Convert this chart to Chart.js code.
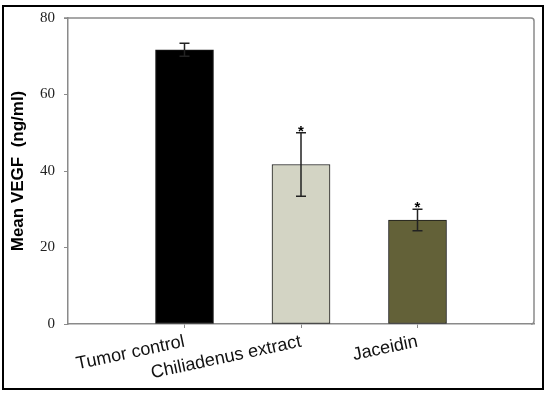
<!DOCTYPE html>
<html lang="en">
<head>
  <meta charset="UTF-8" />
  <title>Mean VEGF</title>
  <script src="https://cdn.jsdelivr.net/npm/chart.js"></script>
  <style>
    body { margin: 0; background: #fff; }
    canvas { display: block; }
  </style>
</head>
<body>
  <canvas id="graficoVEGF" width="550" height="397"></canvas>

  <script>
    const categorias = ['Tumor control', 'Chiliadenus extract', 'Jaceidin'];
    const posiciones = [1, 2, 3];
    const medias = [71.7, 41.7, 27.2];
    const errores = [1.7, 8.3, 2.8];
    const marcas = ['', '*', '*'];
    const colores = ['#000000', '#d3d4c4', '#636138'];
    const ticksY = [0, 20, 40, 60, 80];

    // barras de error, asteriscos, marco del grafico y de la figura
    const extras = {
      id: 'extras',
      afterDatasetsDraw(chart) {
        const ctx = chart.ctx;
        const x = chart.scales.x, y = chart.scales.y;
        ctx.save();
        ctx.strokeStyle = '#222';
        ctx.lineWidth = 1.5;
        medias.forEach((m, i) => {
          const px = x.getPixelForValue(posiciones[i]);
          const yTop = y.getPixelForValue(m + errores[i]);
          const yBot = y.getPixelForValue(m - errores[i]);
          ctx.beginPath();
          ctx.moveTo(px, yTop); ctx.lineTo(px, yBot);
          ctx.moveTo(px - 5, yTop); ctx.lineTo(px + 5, yTop);
          ctx.moveTo(px - 5, yBot); ctx.lineTo(px + 5, yBot);
          ctx.stroke();
          if (marcas[i]) {
            ctx.fillStyle = '#000';
            ctx.font = 'bold 15px "Liberation Sans", Arial';
            ctx.textAlign = 'center';
            ctx.textBaseline = 'alphabetic';
            ctx.fillText(marcas[i], px, yTop + 3);
          }
        });
        const a = chart.chartArea;
        ctx.strokeStyle = '#8a8a8a';
        ctx.lineWidth = 1.5;
        ctx.beginPath();
        ctx.moveTo(a.left - 4, a.top);
        ctx.lineTo(a.right - 3, a.top);
        ctx.quadraticCurveTo(a.right, a.top, a.right, a.top + 3);
        ctx.lineTo(a.right, a.bottom - 3);
        ctx.quadraticCurveTo(a.right, a.bottom, a.right - 3, a.bottom);
        ctx.stroke();
        ctx.strokeStyle = '#000';
        ctx.lineWidth = 2;
        ctx.strokeRect(3, 6, 540, 383);
        ctx.restore();
      }
    };

    const ctx = document.getElementById('graficoVEGF').getContext('2d');
    new Chart(ctx, {
      type: 'bar',
      data: {
        datasets: [{
          data: medias.map((m, i) => ({ x: posiciones[i], y: m })),
          backgroundColor: colores,
          borderColor: '#1a1a1a',
          borderWidth: 1,
          borderSkipped: false,
          barThickness: 58
        }]
      },
      options: {
        responsive: false,
        animation: false,
        layout: { padding: { top: 15, right: 16, left: 0, bottom: 0 } },
        plugins: { legend: { display: false }, tooltip: { enabled: false } },
        scales: {
          x: {
            type: 'linear',
            min: 0,
            max: 4,
            offset: false,
            afterBuildTicks: s => { s.ticks = posiciones.map(v => ({ value: v })); },
            afterFit: s => { s.height = 73; },
            grid: { offset: false, drawOnChartArea: false, drawTicks: true, tickLength: 4, color: '#8a8a8a' },
            border: { color: '#8a8a8a', width: 1.5 },
            ticks: {
              callback: v => categorias[posiciones.indexOf(v)] || '',
              minRotation: 12,
              maxRotation: 12,
              padding: 3,
              color: '#111',
              font: { family: '"Liberation Sans", Arial', size: 18 }
            }
          },
          y: {
            min: 0,
            max: 80,
            afterBuildTicks: s => { s.ticks = ticksY.map(v => ({ value: v })); },
            afterFit: s => { s.width = 68; },
            grid: { drawOnChartArea: false, drawTicks: true, tickLength: 4, color: '#8a8a8a' },
            border: { color: '#8a8a8a', width: 1.5 },
            ticks: {
              padding: 9,
              color: '#222',
              font: { family: '"Liberation Serif", serif', size: 15 }
            },
            title: {
              display: true,
              text: 'Mean VEGF  (ng/ml)',
              color: '#000',
              padding: { top: 8, bottom: 0 },
              font: { family: '"Liberation Sans", Arial', size: 17, weight: 'bold' }
            }
          }
        }
      },
      plugins: [extras]
    });
  </script>
</body>
</html>
